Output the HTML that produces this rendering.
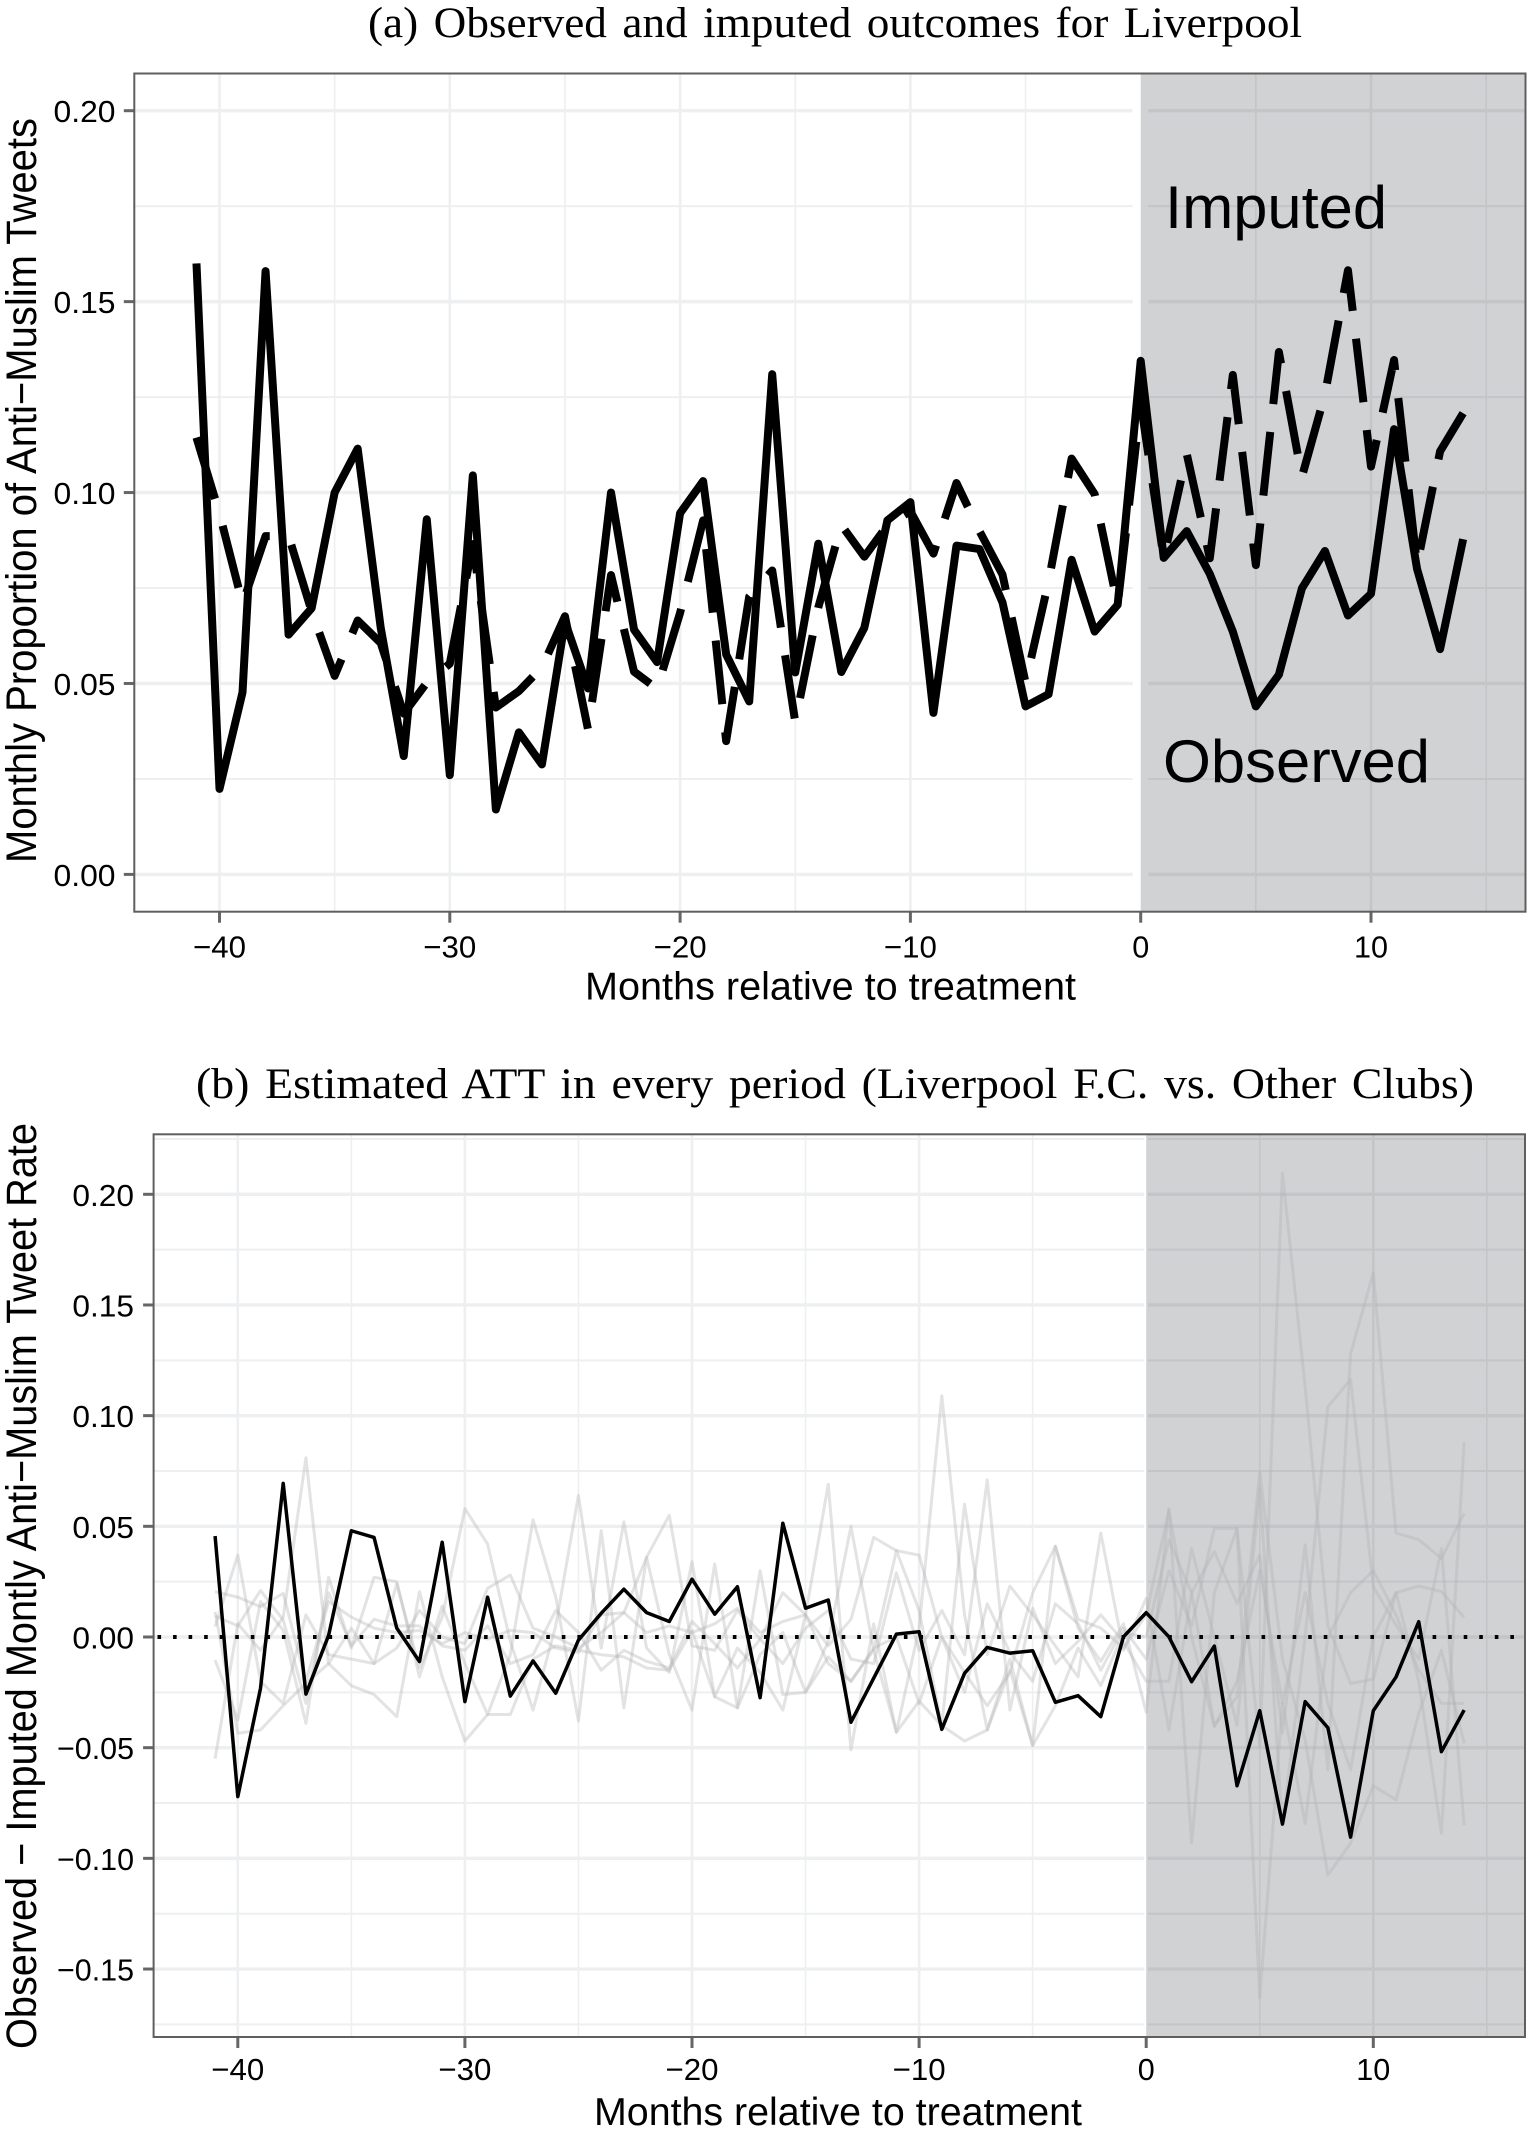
<!DOCTYPE html>
<html lang="en">
<head>
<meta charset="utf-8">
<title>Observed and imputed outcomes for Liverpool</title>
<style>
html,body{margin:0;padding:0;background:#fff;}
svg{display:block;}
text{fill:#000;}
.sans{font-family:"Liberation Sans",sans-serif;}
.serif{font-family:"Liberation Serif",serif;}
</style>
</head>
<body>
<svg id="figure" width="1527" height="2145" viewBox="0 0 1527 2145" xmlns="http://www.w3.org/2000/svg">
  <rect x="0" y="0" width="1527" height="2145" fill="#ffffff"/>

  <g id="panelA"></g>
  <text class="serif" x="368" y="37" font-size="43" word-spacing="4" textLength="934" lengthAdjust="spacingAndGlyphs">(a) Observed and imputed outcomes for Liverpool</text>
  <text class="sans" transform="translate(36 863) rotate(-90)" font-size="43" textLength="745" lengthAdjust="spacingAndGlyphs">Monthly Proportion of Anti−Muslim Tweets</text>
  <text class="sans" x="585" y="999.5" font-size="39" textLength="491" lengthAdjust="spacingAndGlyphs">Months relative to treatment</text>
  <text class="sans" x="1165" y="228" font-size="60" textLength="222" lengthAdjust="spacingAndGlyphs">Imputed</text>
  <text class="sans" x="1163" y="782" font-size="60" textLength="267" lengthAdjust="spacingAndGlyphs">Observed</text>

  <g id="panelB"></g>
  <text class="serif" x="196" y="1098" font-size="43" word-spacing="4" textLength="1278" lengthAdjust="spacingAndGlyphs">(b) Estimated ATT in every period (Liverpool F.C. vs. Other Clubs)</text>
  <text class="sans" transform="translate(36 2049) rotate(-90)" font-size="43" textLength="926" lengthAdjust="spacingAndGlyphs">Observed − Imputed Montly Anti−Muslim Tweet Rate</text>
  <text class="sans" x="594" y="2125" font-size="39" textLength="488" lengthAdjust="spacingAndGlyphs">Months relative to treatment</text>
</svg>

<script>
const months = [-41,-40,-39,-38,-37,-36,-35,-34,-33,-32,-31,-30,-29,-28,-27,-26,-25,-24,-23,-22,-21,-20,-19,-18,-17,-16,-15,-14,-13,-12,-11,-10,-9,-8,-7,-6,-5,-4,-3,-2,-1,0,1,2,3,4,5,6,7,8,9,10,11,12,13,14];

const observedValues = [.160,.0224,.0477,.158,.0628,.0697,.100,.1115,.0646,.031,.093,.026,.1045,.017,.0372,.0288,.0662,.0487,.100,.0641,.0556,.0946,.103,.0576,.0453,.131,.0529,.0866,.053,.0646,.0927,.0975,.0423,.0861,.0852,.0712,.044,.0472,.0824,.0636,.0706,.1345,.0829,.0899,.0787,.0636,.044,.0523,.0749,.0847,.0678,.0735,.1166,.080,.059,.0878];
const imputedValues = [.1144,.0945,.0709,.0886,.0886,.0689,.052,.0665,.0606,.0421,.0502,.0552,.0865,.0437,.048,.0542,.0676,.038,.0784,.0531,.0486,.0685,.0927,.0349,.0727,.0796,.0399,.0699,.0915,.0832,.0914,.0951,.084,.1025,.0899,.0785,.0502,.0767,.1089,.0996,.0705,.1235,.0828,.1101,.0828,.1308,.081,.1368,.1041,.1257,.1582,.1068,.1347,.081,.1108,.1208];

const attLiverpool = [.0456,-.0721,-.0232,.0694,-.0258,.0008,.048,.045,.004,-.0111,.0428,-.0292,.018,-.0267,-.0108,-.0254,-.0014,.0107,.0216,.011,.007,.0261,.0103,.0227,-.0274,.0514,.013,.0167,-.0385,-.0186,.0013,.0024,-.0417,-.0164,-.0047,-.0073,-.0062,-.0295,-.0265,-.036,.0001,.011,.0001,-.0202,-.0041,-.0672,-.0333,-.0845,-.0292,-.041,-.0904,-.0333,-.0181,.0069,-.0518,-.033];
const attClub1 = [-.055,.006,-.006,.009,.081,-.012,.004,-.012,.024,-.014,.009,.058,.042,-.002,-.033,.005,.064,-.005,.052,-.005,-.016,.034,-.027,-.005,-.016,-.033,.01,.069,-.051,.006,-.043,.004,.109,.01,-.042,-.01,-.049,.041,.004,-.011,.006,-.034,.058,-.093,.02,.049,-.05,.2095,.113,.005,-.021,-.019,.02,.023,.0205,.0089];
const attClub2 = [-.0104,-.0375,.016,.003,-.039,.027,-.005,.027,.025,-.018,.014,-.012,-.035,-.008,.053,.018,-.038,.048,-.032,.036,-.008,-.033,.033,-.032,-.008,.002,-.025,-.002,.05,-.006,.039,.012,-.04,.06,-.008,.023,.01,-.004,-.018,.047,-.006,.0175,-.042,.02,.0386,.0152,.037,-.0435,.0416,-.06,.128,.1646,.047,.044,.0355,.0559];
const attClub3 = [.0114,-.0435,-.042,-.031,-.021,-.012,-.022,-.026,-.036,.0205,-.018,-.047,-.035,-.035,-.01,-.004,-.006,-.008,-.009,-.014,-.015,.003,-.027,-.032,.03,-.026,-.025,-.009,-.02,-.006,-.043,-.029,-.04,-.047,-.042,-.015,-.049,-.031,-.005,-.022,.002,0,.0438,.02,-.04,-.027,.0747,-.01,-.0465,-.1075,-.0932,-.0672,-.0736,-.0345,-.006,-.048];
const attClub4 = [.0205,.018,.0137,.0197,-.02,.016,.009,.004,.002,.003,-.003,.002,-.001,.003,.002,-.005,-.007,.01,.011,.036,.055,-.004,-.006,.012,-.001,.02,.01,-.004,.008,.045,.039,.037,0,-.016,-.031,-.016,.02,.041,.008,.004,-.005,.01,.0574,0,-.0405,-.02,.03,-.03,.02,-.03,-.06,0,.02,-.02,-.0887,.088];
const attClub5 = [.0047,.037,-.02,-.03,.01,-.008,-.01,-.012,-.005,.012,0,-.003,.022,.028,.004,0,-.005,.002,.011,.002,.005,.002,.006,.013,.002,.007,.01,-.012,-.02,-.005,0,-.03,0,-.025,.015,-.007,-.02,.015,.006,-.015,.004,-.01,.03,.005,.0491,.0491,-.163,-.03,-.0842,0,.02,.03,.01,-.015,-.03,-.03];
const attClub6 = [.0095,.005,.021,.0077,-.03,.02,-.004,.008,.005,.005,-.004,-.006,.005,-.012,-.008,.012,.002,-.015,-.006,-.011,-.014,.007,-.003,-.014,-.001,-.012,.004,.012,-.01,-.012,.029,-.006,.012,-.008,.071,-.033,.013,-.012,-.002,.01,-.002,-.02,-.02,.04,0,-.04,.0672,-.085,0,.104,.1164,.0227,.0054,-.01,.04,-.0851];

const yMajorTicksA = [0,.05,.10,.15,.20];
const yMajorLabelsA = ['0.00','0.05','0.10','0.15','0.20'];
const yMinorTicksA = [.025,.075,.125,.175];
const yMajorTicksB = [-.15,-.10,-.05,0,.05,.10,.15,.20];
const yMajorLabelsB = ['−0.15','−0.10','−0.05','0.00','0.05','0.10','0.15','0.20'];
const yMinorTicksB = [-.175,-.125,-.075,-.025,.025,.075,.125,.175,.225];
const xMajorTicks = [-40,-30,-20,-10,0,10];
const xMajorLabels = ['−40','−30','−20','−10','0','10'];
const xMinorTicks = [-35,-25,-15,-5,5,15];

const SVGNS = 'http://www.w3.org/2000/svg';

function xA(m){ return 1140.7 + 23.03 * m; }
function yA(v){ return 874.4 - 3818.5 * v; }
function xB(m){ return 1146.2 + 22.71 * m; }
function yB(v){ return 1637 - 2213.5 * v; }

function mkLine(parent, x1, y1, x2, y2, stroke, width){
  const el = document.createElementNS(SVGNS, 'line');
  el.setAttribute('x1', x1);
  el.setAttribute('y1', y1);
  el.setAttribute('x2', x2);
  el.setAttribute('y2', y2);
  el.setAttribute('stroke', stroke);
  el.setAttribute('stroke-width', width);
  parent.appendChild(el);
  return el;
}
function mkRect(parent, x, y, w, h, fill, opacity){
  const el = document.createElementNS(SVGNS, 'rect');
  el.setAttribute('x', x);
  el.setAttribute('y', y);
  el.setAttribute('width', w);
  el.setAttribute('height', h);
  el.setAttribute('fill', fill);
  if (opacity !== undefined) el.setAttribute('fill-opacity', opacity);
  parent.appendChild(el);
  return el;
}
function mkSeries(parent, xs, ys, xf, yf, stroke, width){
  const el = document.createElementNS(SVGNS, 'polyline');
  const pts = xs.map(function(m, i){ return xf(m).toFixed(2) + ',' + yf(ys[i]).toFixed(2); });
  el.setAttribute('points', pts.join(' '));
  el.setAttribute('fill', 'none');
  el.setAttribute('stroke', stroke);
  el.setAttribute('stroke-width', width);
  el.setAttribute('stroke-linejoin', 'round');
  el.setAttribute('stroke-linecap', 'butt');
  parent.appendChild(el);
  return el;
}
function mkText(parent, x, y, str, anchor, len){
  const el = document.createElementNS(SVGNS, 'text');
  el.setAttribute('class', 'sans');
  el.setAttribute('x', x);
  el.setAttribute('y', y);
  el.setAttribute('font-size', '31');
  el.setAttribute('text-anchor', anchor);
  el.setAttribute('textLength', len);
  el.setAttribute('lengthAdjust', 'spacingAndGlyphs');
  el.textContent = str;
  parent.appendChild(el);
  return el;
}
function xLabelLength(str){
  if (str.length === 1) return 17;
  if (str.length === 2) return 34;
  return 53;
}

function drawFrame(parent, box, xf, yf, yMajor, yLabels, yMinor, gap, labelX, labelLenPerChar, xLabelY){
  const GRID = '#eeeff0';
  yMinor.forEach(function(v){
    const g = mkLine(parent, box.l, yf(v), box.r, yf(v), GRID, 2);
    
    
  });
  xMinorTicks.forEach(function(m){
    const g = mkLine(parent, xf(m), box.t, xf(m), box.b, GRID, 1.6);
    
    
  });
  yMajor.forEach(function(v){
    const g = mkLine(parent, box.l, yf(v), box.r, yf(v), GRID, 3.4);
    
    
  });
  xMajorTicks.forEach(function(m){
    const g = mkLine(parent, xf(m), box.t, xf(m), box.b, GRID, 2.6);
    
    
  });
  const gapRect = mkRect(parent, gap[0], box.t, gap[1] - gap[0], box.b - box.t, '#ffffff');
  
  

  yMajor.forEach(function(v, i){
    const t = mkLine(parent, box.l - 10.5, yf(v), box.l, yf(v), '#666666', 3);
    
    
    const s = yLabels[i];
    const lab = mkText(parent, labelX, yf(v) + 11.5, s, 'end', s.length * labelLenPerChar);
    
    
  });
  xMajorTicks.forEach(function(m, i){
    const t = mkLine(parent, xf(m), box.b, xf(m), box.b + 11, '#666666', 3);
    
    
    const s = xMajorLabels[i];
    const lab = mkText(parent, xf(m), xLabelY, s, 'middle', xLabelLength(s));
    
    
  });
}

function drawBorder(parent, box){
  const el = mkRect(parent, box.l, box.t, box.r - box.l, box.b - box.t, 'none');
  el.setAttribute('stroke', '#5f5f5f');
  el.setAttribute('stroke-width', '2');
  
  
}

/* Panel A */
const panelA = document.getElementById('panelA');
const boxA = {l:134.3, r:1525.5, t:73.5, b:911.7};
drawFrame(panelA, boxA, xA, yA, yMajorTicksA, yMajorLabelsA, yMinorTicksA, [1132.7,1148.3], 115.5, 15.5, 957.3);
const shadeA = mkRect(panelA, xA(0), boxA.t, boxA.r - xA(0), boxA.b - boxA.t, '#00050f', 0.18);


const imputedLine = mkSeries(panelA, months, imputedValues, xA, yA, '#000000', 8);
imputedLine.setAttribute('stroke-dasharray', '64 28');


const observedLine = mkSeries(panelA, months, observedValues, xA, yA, '#000000', 8);


drawBorder(panelA, boxA);

/* Panel B */
const panelB = document.getElementById('panelB');
const boxB = {l:153.6, r:1525, t:1134.3, b:2037};
drawFrame(panelB, boxB, xB, yB, yMajorTicksB, yMajorLabelsB, yMinorTicksB, [1144.3,1148], 134, 15.4, 2080);

const shadeB = mkRect(panelB, xB(0), boxB.t, boxB.r - xB(0), boxB.b - boxB.t, '#00050f', 0.18);



const club1Line = mkSeries(panelB, months, attClub1, xB, yB, '#b3b4b6', 3);
club1Line.setAttribute('stroke-opacity', '0.37');


const club2Line = mkSeries(panelB, months, attClub2, xB, yB, '#b3b4b6', 3);
club2Line.setAttribute('stroke-opacity', '0.37');


const club3Line = mkSeries(panelB, months, attClub3, xB, yB, '#b3b4b6', 3);
club3Line.setAttribute('stroke-opacity', '0.37');


const club4Line = mkSeries(panelB, months, attClub4, xB, yB, '#b3b4b6', 3);
club4Line.setAttribute('stroke-opacity', '0.37');


const club5Line = mkSeries(panelB, months, attClub5, xB, yB, '#b3b4b6', 3);
club5Line.setAttribute('stroke-opacity', '0.37');


const club6Line = mkSeries(panelB, months, attClub6, xB, yB, '#b3b4b6', 3);
club6Line.setAttribute('stroke-opacity', '0.37');



const zeroLine = mkLine(panelB, 157.5, yB(0), 1516, yB(0), '#000000', 4);
zeroLine.setAttribute('stroke-dasharray', '3.6 11.95');



const liverpoolLine = mkSeries(panelB, months, attLiverpool, xB, yB, '#000000', 3.5);


drawBorder(panelB, boxB);
</script>
</body>
</html>
